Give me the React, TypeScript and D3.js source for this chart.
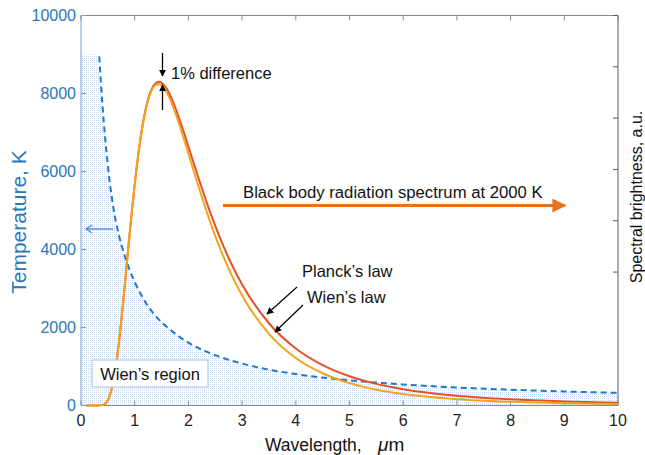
import React from "react";
import * as d3 from "d3";

// wavelength (µm) samples and spectra (left-axis units)
const planckLambda = [0.1, 0.2, 0.3, 0.4, 0.45, 0.5, 0.55, 0.6, 0.65, 0.7, 0.75, 0.8, 0.85, 0.9, 0.95, 1.0, 1.1, 1.2, 1.3, 1.4, 1.45, 1.5, 1.6, 1.7, 1.8, 1.9, 2.0, 2.2, 2.4, 2.6, 2.8, 3.0, 3.5, 4.0, 4.5, 5.0, 5.5, 6.0, 7.0, 8.0, 9.0, 10.0];
const planckValues = [0, 0, 0, 11, 47, 136, 313, 602, 1014, 1544, 2170, 2862, 3587, 4315, 5017, 5670, 6775, 7571, 8059, 8275, 8300, 8276, 8112, 7831, 7473, 7069, 6642, 5783, 4977, 4258, 3635, 3104, 2109, 1461, 1036, 751, 555, 419, 250, 158, 104, 72];
const wienValues = [0, 0, 0, 11, 47, 136, 313, 602, 1014, 1544, 2170, 2862, 3587, 4314, 5014, 5666, 6765, 7552, 8027, 8226, 8240, 8208, 8022, 7717, 7336, 6909, 6460, 5563, 4729, 3990, 3357, 2822, 1839, 1219, 827, 573, 405, 293, 161, 94, 57, 37];

// Wien's-region boundary temperature (K) vs wavelength
const boundaryLambda = [0.34, 0.4, 0.5, 0.6, 0.7, 0.8, 0.9, 1.0, 1.2, 1.4, 1.7, 2.0, 2.5, 3.0, 3.5, 4.0, 4.5, 5.0, 6.0, 7.0, 8.0, 9.0, 10.0];
const boundaryTemp = [8950, 7700, 6150, 5100, 4400, 3900, 3500, 3170, 2650, 2280, 1900, 1610, 1290, 1075, 920, 805, 715, 645, 540, 462, 405, 360, 325];
const shadeCap = 9000;

const xTicks = [0, 1, 2, 3, 4, 5, 6, 7, 8, 9, 10];
const yTicks = [0, 2000, 4000, 6000, 8000, 10000];
const rightTicks = [1, 2, 3, 4, 5, 6];

export default function App() {
  const W = 645, H = 455;
  const x = d3.scaleLinear().domain([0, 10]).range([81, 618]);
  const y = d3.scaleLinear().domain([0, 10000]).range([405.5, 15.5]);
  const yR = d3.scaleLinear().domain([-1.6, 6]).range([405.5, 15.5]);

  const planck = planckLambda.map((l, i) => [l, planckValues[i]] as [number, number]);
  const wien = planckLambda.map((l, i) => [l, wienValues[i]] as [number, number]);
  const boundary = boundaryLambda.map((l, i) => [l, boundaryTemp[i]] as [number, number]);

  const line = d3.line<[number, number]>().x(d => x(d[0])).y(d => y(d[1])).curve(d3.curveMonotoneX);
  const shade: [number, number][] = [[0, shadeCap], [boundaryLambda[0], shadeCap], ...boundary];
  const area = d3.area<[number, number]>().x(d => x(d[0])).y0(y(0)).y1(d => y(d[1])).curve(d3.curveLinear);

  const font = "'Liberation Sans', Arial, sans-serif";
  const blue = "#2e75b6";
  const x0 = x(0), x1 = x(10), yTop = y(10000), yBot = y(0);

  return (
    <svg width={W} height={H} style={{ position: "absolute", left: 0, top: 0, background: "#fff" }} fontFamily={font}>
      <defs>
        <pattern id="dots" width="2" height="2" patternUnits="userSpaceOnUse">
          <rect width="2" height="2" fill="#ffffff" />
          <rect width="1" height="1" fill="#c4d9f0" />
        </pattern>
        <marker id="ahBlack" viewBox="0 0 10 10" refX="9" refY="5" markerWidth="7" markerHeight="7" orient="auto" markerUnits="userSpaceOnUse">
          <path d="M0,0 L10,5 L0,10 z" fill="#000" />
        </marker>
        <marker id="ahOrange" viewBox="0 0 10 10" refX="9" refY="5" markerWidth="14" markerHeight="14" orient="auto" markerUnits="userSpaceOnUse">
          <path d="M0,0 L10,5 L0,10 z" fill="#e8701e" />
        </marker>
      </defs>

      {/* shaded Wien's region */}
      <path d={area(shade) || ""} fill="url(#dots)" />

      {/* axes box */}
      <line x1={x0} x2={x1} y1={yTop} y2={yTop} stroke="#8a8a8a" strokeWidth={1} />
      <line x1={x0} x2={x1} y1={yBot} y2={yBot} stroke="#8a8a8a" strokeWidth={1} />
      <line x1={x0} x2={x0} y1={yTop} y2={yBot} stroke="#6fa3d8" strokeWidth={1} />
      <line x1={x1} x2={x1} y1={yTop} y2={yBot} stroke="#4f5d6b" strokeWidth={1} />

      {xTicks.map(t => (
        <g key={"xt" + t}>
          <line x1={x(t)} x2={x(t)} y1={yBot} y2={yBot - 5} stroke="#8a8a8a" />
          <line x1={x(t)} x2={x(t)} y1={yTop} y2={yTop + 5} stroke="#8a8a8a" />
          <text x={x(t)} y={426} fontSize={16} textAnchor="middle" fill="#222">{t}</text>
        </g>
      ))}
      {yTicks.map(t => (
        <g key={"yt" + t}>
          <line x1={x0} x2={x0 + 5} y1={y(t)} y2={y(t)} stroke="#6fa3d8" />
          <text x={76} y={y(t) + 5.5} fontSize={16} textAnchor="end" fill={blue}>{t}</text>
        </g>
      ))}
      {rightTicks.map(t => (
        <line key={"rt" + t} x1={x1} x2={x1 - 5} y1={yR(t)} y2={yR(t)} stroke="#4f5d6b" />
      ))}

      {/* boundary dashed curve */}
      <path d={line(boundary) || ""} fill="none" stroke="#1f78c8" strokeWidth={2} strokeDasharray="6,4" />

      {/* spectra */}
      <path d={line(planck) || ""} fill="none" stroke="#e4502a" strokeWidth={2} />
      <path d={line(wien) || ""} fill="none" stroke="#f3a31b" strokeWidth={2} />

      {/* annotations */}
      <line x1={113} x2={86} y1={229} y2={229} stroke="#5b8fd5" strokeWidth={1.5} />
      <path d="M92,225 L86,229 L92,233" fill="none" stroke="#5b8fd5" strokeWidth={1.5} />

      <rect x={92} y={360} width={116} height={27} fill="#fff" stroke="#9dc3e6" strokeWidth={1} />
      <text x={150} y={380} fontSize={16.5} textAnchor="middle" fill="#111">Wien’s region</text>

      <line x1={162.5} x2={162.5} y1={53} y2={76} stroke="#000" strokeWidth={1.3} markerEnd="url(#ahBlack)" />
      <line x1={162.5} x2={162.5} y1={110} y2={85} stroke="#000" strokeWidth={1.3} markerEnd="url(#ahBlack)" />
      <text x={171} y={79} fontSize={16.5} fill="#111">1% difference</text>

      <line x1={223} x2={565} y1={205.5} y2={205.5} stroke="#e8701e" strokeWidth={3} markerEnd="url(#ahOrange)" />
      <text x={243} y={198} fontSize={16.7} fill="#111">Black body radiation spectrum at 2000 K</text>

      <text x={302} y={277} fontSize={16.5} fill="#111">Planck’s law</text>
      <text x={307} y={303} fontSize={16.5} fill="#111">Wien’s law</text>
      <line x1={297} x2={267} y1={287} y2={314} stroke="#000" strokeWidth={1.2} markerEnd="url(#ahBlack)" />
      <line x1={303} x2={275} y1={305} y2={332} stroke="#000" strokeWidth={1.2} markerEnd="url(#ahBlack)" />

      {/* axis titles */}
      <text y={451} fontSize={17.5} fill="#111">
        <tspan x={265}>Wavelength,</tspan>
        <tspan x={378} fontStyle="italic" fontSize={19}>μ</tspan>
        <tspan fontSize={19}>m</tspan>
      </text>
      <text transform="translate(25.5,222) rotate(-90)" fontSize={21} textAnchor="middle" fill={blue}>Temperature, K</text>
      <text transform="translate(642,197) rotate(-90)" fontSize={16} textAnchor="middle" fill="#111">Spectral brightness, a.u.</text>
    </svg>
  );
}
